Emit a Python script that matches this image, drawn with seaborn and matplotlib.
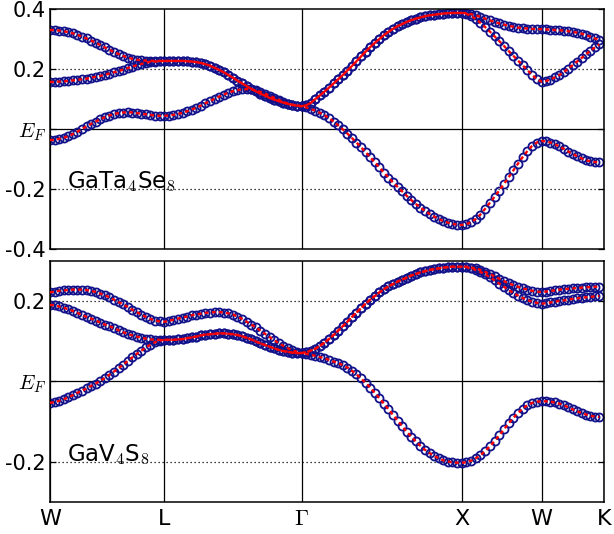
import numpy as np
import pandas as pd
import seaborn as sns
import matplotlib
import matplotlib.pyplot as plt

matplotlib.use("Agg")

# k-path: node positions (2pi/a units) and number of intervals per segment
k_nodes = [0.0, 0.714, 1.573, 2.573, 3.073, 3.434]
k_ticks = [0.0, 0.714, 1.573, 2.573, 3.073, 3.463]
k_labels = ["W", "L", r"$\Gamma$", "X", "W", "K"]
seg_steps = [25, 30, 35, 17, 13]

# GaTa4Se8 bands (eV relative to E_F)
ta_band1 = [
    0.330, 0.330, 0.328, 0.326, 0.323, 0.319, 0.314, 0.308, 0.302, 0.295, 0.288, 0.280, 0.272,
    0.264, 0.257, 0.250, 0.244, 0.238, 0.234, 0.231, 0.229, 0.228, 0.227, 0.227, 0.227, 0.227,
    0.227, 0.227, 0.227, 0.227, 0.226, 0.225, 0.223, 0.220, 0.216, 0.211, 0.204, 0.197, 0.189,
    0.180, 0.171, 0.161, 0.152, 0.143, 0.134, 0.126, 0.118, 0.111, 0.104, 0.098, 0.093, 0.088,
    0.084, 0.080, 0.078, 0.076,
    0.079, 0.087, 0.100, 0.112, 0.125, 0.138, 0.152, 0.166, 0.180, 0.195, 0.210, 0.226, 0.242,
    0.258, 0.273, 0.287, 0.300, 0.313, 0.324, 0.334, 0.343, 0.350, 0.357, 0.363, 0.368, 0.372,
    0.376, 0.379, 0.381, 0.383, 0.385, 0.386, 0.387, 0.387, 0.387,
    0.386, 0.383, 0.379, 0.374, 0.368, 0.362, 0.357, 0.352, 0.348, 0.344, 0.341, 0.338, 0.336,
    0.335, 0.334, 0.333, 0.333,
    0.332, 0.331, 0.330, 0.329, 0.328, 0.326, 0.324, 0.321, 0.318, 0.313, 0.308, 0.302, 0.296,
]
ta_band2 = [
    0.157, 0.157, 0.158, 0.159, 0.160, 0.162, 0.164, 0.166, 0.168, 0.171, 0.174, 0.177, 0.181,
    0.185, 0.189, 0.193, 0.198, 0.203, 0.208, 0.213, 0.217, 0.221, 0.224, 0.225, 0.226, 0.227,
    0.227, 0.227, 0.227, 0.227, 0.226, 0.225, 0.223, 0.220, 0.216, 0.211, 0.204, 0.197, 0.189,
    0.180, 0.171, 0.161, 0.152, 0.143, 0.134, 0.126, 0.118, 0.111, 0.104, 0.098, 0.093, 0.088,
    0.084, 0.080, 0.078, 0.076,
    0.079, 0.087, 0.100, 0.112, 0.125, 0.138, 0.152, 0.166, 0.180, 0.195, 0.210, 0.226, 0.242,
    0.258, 0.273, 0.287, 0.300, 0.313, 0.324, 0.334, 0.343, 0.350, 0.357, 0.363, 0.368, 0.372,
    0.376, 0.379, 0.381, 0.383, 0.385, 0.386, 0.387, 0.387, 0.387,
    0.384, 0.377, 0.367, 0.354, 0.340, 0.325, 0.309, 0.293, 0.277, 0.260, 0.244, 0.228, 0.212,
    0.196, 0.180, 0.166, 0.158,
    0.160, 0.165, 0.172, 0.180, 0.190, 0.201, 0.213, 0.225, 0.237, 0.249, 0.261, 0.272, 0.282,
]
ta_band3 = [
    -0.037, -0.036, -0.033, -0.029, -0.024, -0.017, -0.009, 0.000, 0.009, 0.017, 0.025, 0.032,
    0.039, 0.045, 0.050, 0.053, 0.055, 0.056, 0.055, 0.053, 0.051, 0.049, 0.047, 0.045, 0.044,
    0.044,
    0.045, 0.047, 0.050, 0.054, 0.059, 0.065, 0.071, 0.078, 0.086, 0.093, 0.101, 0.108, 0.115,
    0.121, 0.126, 0.130, 0.132, 0.133, 0.132, 0.129, 0.124, 0.118, 0.111, 0.104, 0.097, 0.090,
    0.085, 0.081, 0.078, 0.076,
    0.072, 0.067, 0.061, 0.054, 0.046, 0.036, 0.025, 0.012, -0.001, -0.015, -0.030, -0.045,
    -0.061, -0.077, -0.094, -0.111, -0.128, -0.145, -0.162, -0.178, -0.193, -0.208, -0.223,
    -0.237, -0.250, -0.262, -0.273, -0.283, -0.292, -0.300, -0.307, -0.312, -0.316, -0.319, -0.320,
    -0.317, -0.311, -0.300, -0.285, -0.266, -0.246, -0.226, -0.205, -0.183, -0.161, -0.138,
    -0.115, -0.093, -0.073, -0.056, -0.045, -0.040,
    -0.041, -0.045, -0.051, -0.058, -0.066, -0.075, -0.083, -0.091, -0.098, -0.104, -0.108,
    -0.110, -0.111,
]

# GaV4S8 bands
v_band1 = [
    0.221, 0.223, 0.225, 0.226, 0.227, 0.228, 0.228, 0.228, 0.227, 0.225, 0.222, 0.218, 0.214,
    0.209, 0.203, 0.197, 0.191, 0.185, 0.178, 0.172, 0.166, 0.160, 0.155, 0.151, 0.149, 0.148,
    0.150, 0.153, 0.156, 0.158, 0.161, 0.164, 0.166, 0.168, 0.170, 0.171, 0.172, 0.172, 0.171,
    0.169, 0.166, 0.161, 0.155, 0.148, 0.141, 0.134, 0.126, 0.118, 0.110, 0.102, 0.095, 0.088,
    0.082, 0.077, 0.073, 0.070,
    0.072, 0.076, 0.081, 0.088, 0.096, 0.105, 0.115, 0.126, 0.137, 0.148, 0.160, 0.171, 0.182,
    0.193, 0.203, 0.212, 0.221, 0.229, 0.236, 0.242, 0.248, 0.253, 0.258, 0.263, 0.267, 0.271,
    0.274, 0.277, 0.279, 0.281, 0.283, 0.284, 0.285, 0.285, 0.285,
    0.285, 0.283, 0.281, 0.277, 0.272, 0.267, 0.261, 0.255, 0.249, 0.244, 0.239, 0.235, 0.231,
    0.228, 0.225, 0.223, 0.222,
    0.223, 0.225, 0.226, 0.228, 0.229, 0.230, 0.231, 0.232, 0.233, 0.234, 0.234, 0.235, 0.235,
]
v_band2 = [
    0.190, 0.189, 0.186, 0.183, 0.179, 0.175, 0.170, 0.165, 0.160, 0.156, 0.151, 0.146, 0.141,
    0.137, 0.132, 0.127, 0.122, 0.118, 0.114, 0.111, 0.108, 0.106, 0.104, 0.103, 0.103, 0.103,
    0.103, 0.103, 0.104, 0.105, 0.107, 0.109, 0.111, 0.114, 0.116, 0.117, 0.118, 0.119, 0.119,
    0.118, 0.117, 0.115, 0.112, 0.108, 0.104, 0.099, 0.094, 0.090, 0.086, 0.082, 0.078, 0.075,
    0.073, 0.071, 0.070, 0.070,
    0.072, 0.076, 0.081, 0.088, 0.096, 0.105, 0.115, 0.126, 0.137, 0.148, 0.160, 0.171, 0.182,
    0.193, 0.203, 0.212, 0.221, 0.229, 0.236, 0.242, 0.248, 0.253, 0.258, 0.263, 0.267, 0.271,
    0.274, 0.277, 0.279, 0.281, 0.283, 0.284, 0.285, 0.285, 0.285,
    0.284, 0.281, 0.277, 0.272, 0.266, 0.259, 0.251, 0.243, 0.235, 0.227, 0.220, 0.213, 0.207,
    0.202, 0.198, 0.195, 0.193,
    0.194, 0.196, 0.198, 0.200, 0.201, 0.203, 0.205, 0.206, 0.208, 0.209, 0.210, 0.211, 0.212,
]
v_band3 = [
    -0.054, -0.052, -0.049, -0.045, -0.040, -0.035, -0.029, -0.024, -0.018, -0.012, -0.006,
    0.001, 0.008, 0.016, 0.024, 0.032, 0.041, 0.050, 0.059, 0.068, 0.076, 0.084, 0.091, 0.097,
    0.101, 0.103,
    0.103, 0.103, 0.104, 0.105, 0.107, 0.109, 0.111, 0.114, 0.116, 0.117, 0.118, 0.119, 0.119,
    0.118, 0.117, 0.115, 0.112, 0.108, 0.104, 0.099, 0.094, 0.090, 0.086, 0.082, 0.078, 0.075,
    0.073, 0.071, 0.070, 0.070,
    0.068, 0.066, 0.063, 0.060, 0.057, 0.053, 0.049, 0.045, 0.040, 0.034, 0.026, 0.017, 0.007,
    -0.004, -0.016, -0.029, -0.042, -0.056, -0.070, -0.084, -0.098, -0.112, -0.126, -0.138,
    -0.150, -0.161, -0.171, -0.179, -0.186, -0.192, -0.197, -0.200, -0.202, -0.203, -0.203,
    -0.202, -0.198, -0.192, -0.184, -0.174, -0.162, -0.149, -0.135, -0.120, -0.105, -0.091,
    -0.079, -0.068, -0.060, -0.054, -0.051, -0.050,
    -0.050, -0.051, -0.053, -0.056, -0.060, -0.065, -0.070, -0.075, -0.079, -0.083, -0.086,
    -0.088, -0.089,
]

panels = [
    {"name": "GaTa$_4$Se$_8$", "bands": [ta_band1, ta_band2, ta_band3],
     "ylim": (-0.4, 0.4), "yticks": [0.4, 0.2, 0.0, -0.2, -0.4],
     "yticklabels": ["0.4", "0.2", "$E_F$", "-0.2", "-0.4"], "label_y": -0.197},
    {"name": "GaV$_4$S$_8$", "bands": [v_band1, v_band2, v_band3],
     "ylim": (-0.3, 0.3), "yticks": [0.2, 0.0, -0.2],
     "yticklabels": ["0.2", "$E_F$", "-0.2"], "label_y": -0.2},
]


def build_kgrid():
    parts = []
    for i, n in enumerate(seg_steps):
        seg = np.linspace(k_nodes[i], k_nodes[i + 1], n + 1)
        parts.append(seg if i == 0 else seg[1:])
    return np.concatenate(parts)


def band_frame(bands, k):
    rows = []
    for b, vals in enumerate(bands):
        rows.append(pd.DataFrame({"k": k, "E": vals, "band": b}))
    return pd.concat(rows, ignore_index=True)


sns.set_style("white")
plt.rcParams["mathtext.fontset"] = "cm"
plt.rcParams["font.family"] = ["DejaVu Sans"]
plt.rcParams["text.color"] = "black"
plt.rcParams["xtick.color"] = "black"
plt.rcParams["ytick.color"] = "black"

kgrid = build_kgrid()

fig = plt.figure(figsize=(6.14, 5.34), dpi=100)
axes = [fig.add_axes([0.0814, 0.5337, 0.9023, 0.4494]),
        fig.add_axes([0.0814, 0.0605, 0.9023, 0.4513])]

for ax, p in zip(axes, panels):
    df = band_frame(p["bands"], kgrid)

    # grid: k-point verticals, E_F solid, +-0.2 dotted
    for kt in k_ticks:
        ax.axvline(kt, color="black", lw=0.9, zorder=1)
    ax.axhline(0.0, color="black", lw=0.9, zorder=1)
    for yv in (0.2, -0.2):
        ax.axhline(yv, color="black", lw=0.9, linestyle=(0, (1, 2.2)), zorder=1)

    sns.lineplot(data=df, x="k", y="E", units="band", estimator=None, sort=False,
                 color="#12128a", marker="o", ms=5.8, mfc="none", mec="#12128a",
                 mew=1.3, linestyle="none", legend=False, ax=ax, zorder=2)
    sns.lineplot(data=df, x="k", y="E", units="band", estimator=None, sort=False,
                 color="red", lw=1.7, linestyle=(0, (1.6, 1.4)), legend=False,
                 ax=ax, zorder=3)

    ax.set_xlim(k_ticks[0], k_ticks[-1])
    ax.set_ylim(*p["ylim"])
    ax.set_yticks(p["yticks"])
    ax.set_yticklabels(p["yticklabels"], fontsize=15)
    ax.set_xticks(k_ticks)
    ax.set_xlabel("")
    ax.set_ylabel("")
    ax.tick_params(axis="y", direction="in", length=4, width=0.9, right=True,
                   left=True, pad=3)
    ax.tick_params(axis="x", length=0, pad=5)
    for s in ax.spines.values():
        s.set_color("black")
        s.set_linewidth(1.1)
    ax.text(0.105, p["label_y"], p["name"], fontsize=16.5, ha="left", va="baseline")

axes[0].set_xticklabels([])
axes[1].set_xticklabels(k_labels, fontsize=16)

fig.savefig("out.png", dpi=100)
